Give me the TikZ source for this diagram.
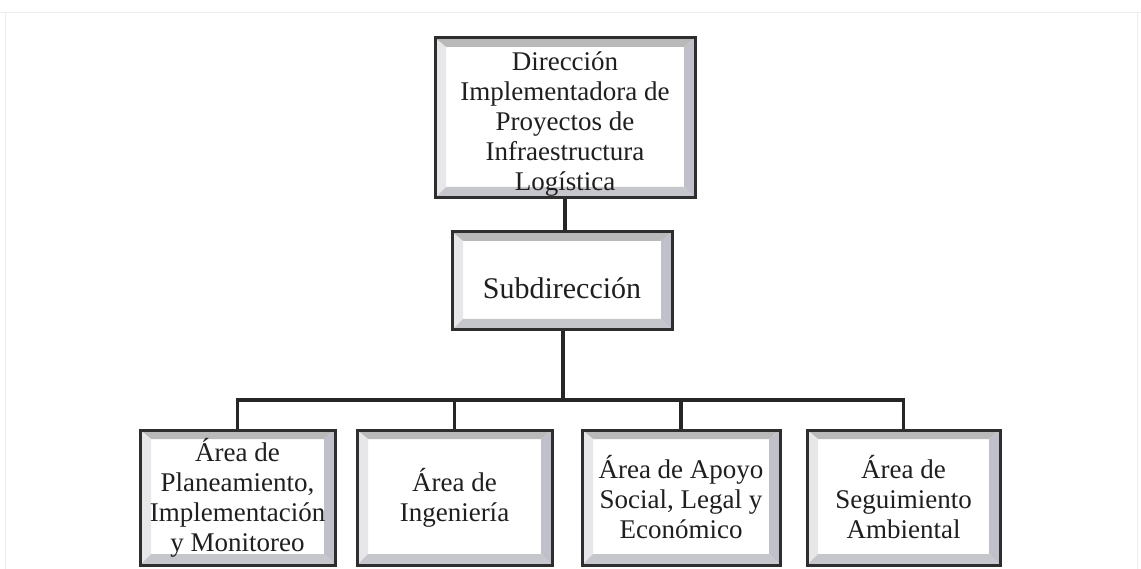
\documentclass[tikz,border=0pt]{standalone}
\usepackage{fontspec}
\setmainfont{Liberation Serif}
\usetikzlibrary{calc}
\tikzset{
  bevelbox/.style={draw=black!82, line width=3pt, fill=white, align=center,
    inner sep=0pt, text=black!88, font=\fontsize{27}{30}\selectfont,
    path picture={
      \coordinate (pSW) at (path picture bounding box.south west);
      \coordinate (pNE) at (path picture bounding box.north east);
      \coordinate (pNW) at (pSW |- pNE);
      \coordinate (pSE) at (pNE |- pSW);
      \coordinate (qSW) at ($(pSW)+(11pt,11pt)$);
      \coordinate (qNE) at ($(pNE)+(-11pt,-9pt)$);
      \coordinate (qNW) at (qSW |- qNE);
      \coordinate (qSE) at (qNE |- qSW);
      \fill[gray!55] (pNW) -- (pNE) -- (qNE) -- (qNW) -- cycle;
      \fill[blue!4!gray!18] (pNW) -- (qNW) -- (qSW) -- (pSW) -- cycle;
      \fill[blue!10!gray!45] (pNE) -- (pSE) -- (qSE) -- (qNE) -- cycle;
      \fill[blue!6!gray!42] (pSW) -- (pSE) -- (qSE) -- (qSW) -- cycle;
    }},
  link/.style={draw=black!85, line width=3.5pt},
  scan/.style={draw=gray!14, line width=0.8pt}
}
\begin{document}
\begin{tikzpicture}[x=1pt, y=-1pt]
  \path[fill=white] (0,0) rectangle (1141,569);
  \useasboundingbox (0,0) rectangle (1141,569);
  \draw[scan] (0,12) -- (1141,12);
  \draw[scan] (5,12) -- (5,569);
  \draw[scan] (1137,12) -- (1137,569);

  \node[bevelbox, minimum width=260pt, minimum height=160pt] (top) at (565,118)
    {\rule{0pt}{31pt}Dirección\\Implementadora de\\Proyectos de\\Infraestructura\\Logística};
  \node[bevelbox, minimum width=220pt, minimum height=98pt,
        font=\fontsize{30}{32}\selectfont] (sub) at (562,281)
    {\rule{0pt}{36pt}Subdirección};

  \node[bevelbox, minimum width=195pt, minimum height=135pt] (a1) at (237.5,497.5)
    {Área de\\Planeamiento,\\Implementación\\y Monitoreo};
  \node[bevelbox, minimum width=195pt, minimum height=135pt] (a2) at (454.5,497.5)
    {Área de\\Ingeniería};
  \node[bevelbox, minimum width=198pt, minimum height=135pt] (a3) at (681,497.5)
    {Área de Apoyo\\Social, Legal y\\Económico};
  \node[bevelbox, minimum width=193pt, minimum height=135pt] (a4) at (903.5,497.5)
    {Área de\\Seguimiento\\Ambiental};

  \coordinate (bus) at (563,400);
  \draw[link] (top.south) -- (top.south |- sub.north);
  \draw[link] (sub.south -| bus) -- (bus);
  \draw[link] (a1.north) |- (bus) -| (a4.north);
  \draw[link] (a2.north) -- (a2.north |- bus);
  \draw[link] (a3.north) -- (a3.north |- bus);
\end{tikzpicture}
\end{document}
